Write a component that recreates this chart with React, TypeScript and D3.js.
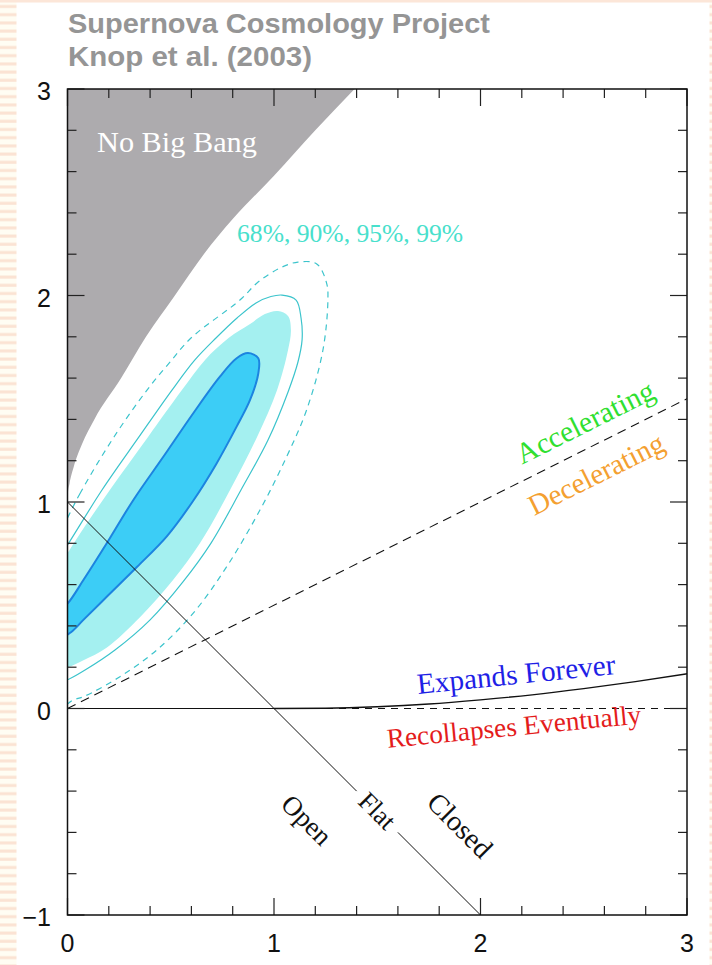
import React from 'react';
import * as d3 from 'd3';

type P = [number, number];

const xTickValues = [0, 1, 2, 3];
const xTickLabels = ['0', '1', '2', '3'];
const yTickValues = [-1, 0, 1, 2, 3];
const yTickLabels = ['\u22121', '0', '1', '2', '3'];

// No Big Bang boundary (Omega_M, Omega_Lambda)
const noBigBangBoundary: P[] = [
  [0, 1], [0.002, 1.04], [0.01, 1.09], [0.03, 1.17], [0.07, 1.28], [0.13, 1.4],
  [0.26, 1.6], [0.38, 1.8], [0.52, 2.0], [0.66, 2.2], [0.8, 2.37], [1.0, 2.58],
  [1.2, 2.8], [1.39, 3.0],
];

// confidence contours
const contour68: P[] = [
  [0.001, 0.509], [0.077, 0.622], [0.19, 0.8], [0.319, 1.01], [0.464, 1.219], [0.609, 1.43],
  [0.738, 1.607], [0.819, 1.696], [0.874, 1.721], [0.924, 1.696], [0.924, 1.623], [0.884, 1.494],
  [0.819, 1.365], [0.722, 1.187], [0.608, 1.005], [0.482, 0.835], [0.336, 0.685], [0.196, 0.547],
  [0.077, 0.429], [0.02, 0.372], [-0.036, 0.341], [-0.075, 0.37], [-0.061, 0.453],
];
const contour90: P[] = [
  [-0.05, 0.66], [0.04, 0.815], [0.205, 1.058], [0.39, 1.315], [0.554, 1.542], [0.666, 1.688],
  [0.78, 1.794], [0.884, 1.862], [0.956, 1.91], [1.019, 1.925], [1.068, 1.901], [1.082, 1.833],
  [1.068, 1.736], [1.015, 1.542], [0.918, 1.315], [0.787, 1.058], [0.642, 0.801], [0.511, 0.622],
  [0.351, 0.442], [0.191, 0.296], [0.075, 0.233], [0.002, 0.201], [-0.061, 0.196], [-0.1, 0.27],
  [-0.1, 0.47],
];
const contour95: P[] = [
  [0.006, 0.801], [0.167, 1.058], [0.346, 1.315], [0.506, 1.542], [0.617, 1.688], [0.719, 1.794],
  [0.821, 1.891], [0.913, 1.964], [0.985, 1.995], [1.039, 2.002], [1.107, 1.978], [1.131, 1.891],
  [1.136, 1.785], [1.116, 1.678], [1.068, 1.533], [0.971, 1.3], [0.84, 1.058], [0.695, 0.801],
  [0.559, 0.613], [0.4, 0.429], [0.23, 0.283], [0.085, 0.186], [-0.002, 0.138], [-0.085, 0.114],
  [-0.133, 0.186], [-0.12, 0.45], [-0.06, 0.7],
];
const contour99: P[] = [
  [-0.02, 0.88], [0.06, 1.04], [0.225, 1.315], [0.385, 1.542], [0.49, 1.67], [0.598, 1.794],
  [0.835, 1.978], [0.923, 2.065], [1.029, 2.133], [1.116, 2.162], [1.207, 2.153], [1.255, 2.059],
  [1.261, 1.978], [1.237, 1.736], [1.158, 1.446], [1.061, 1.219], [0.932, 0.961], [0.771, 0.687],
  [0.609, 0.462], [0.432, 0.283], [0.254, 0.154], [0.077, 0.057], [0.027, 0.041], [-0.06, -0.017],
  [-0.133, 0.017], [-0.157, 0.332], [-0.1, 0.7],
];

// reference lines
const flatLineA: P[] = [[0, 1], [1.4, -0.4]];
const flatLineB: P[] = [[1.6, -0.6], [2, -1]];
const accelLine: P[] = [[0, 0], [3, 1.5]];
const zeroSolid: P[] = [[0, 0], [1, 0]];
const zeroDashed: P[] = [[1, 0], [3, 0]];
const expandCurve: P[] = [
  [1, 0], [1.25, 0.0015], [1.5, 0.0087], [1.75, 0.022], [2, 0.042], [2.25, 0.066],
  [2.5, 0.096], [2.75, 0.13], [3, 0.168],
];

const X0 = 67.5, X1 = 687, Y0 = 89, Y1 = 915;

export default function App() {
  const x = d3.scaleLinear().domain([0, 3]).range([X0, X1]);
  const y = d3.scaleLinear().domain([-1, 3]).range([Y1, Y0]);
  const line = d3.line<P>().x(d => x(d[0])).y(d => y(d[1]));
  const smooth = d3.line<P>().x(d => x(d[0])).y(d => y(d[1])).curve(d3.curveMonotoneX);
  const closed = d3.line<P>().x(d => x(d[0])).y(d => y(d[1])).curve(d3.curveCatmullRomClosed.alpha(0.5));

  const grayPath = smooth(noBigBangBoundary) + `L${x(0)},${y(3)}Z`;

  const minorX = d3.range(0, 3.0001, 0.2);
  const minorY = d3.range(-1, 3.0001, 0.2);
  const isMajor = (v: number) => Math.abs(v - Math.round(v)) < 1e-6;

  const serif = '"Liberation Serif", "Times New Roman", serif';
  const sans = '"Liberation Sans", Arial, Helvetica, sans-serif';
  const lineAngle = (Math.atan2(y(1.5) - y(0), x(3) - x(0)) * 180) / Math.PI;

  const label = (t: string, mx: number, ml: number, rot: number, color: string, size: number) => (
    <text
      transform={`translate(${x(mx)},${y(ml)}) rotate(${rot})`}
      textAnchor="middle"
      dominantBaseline="central"
      fontFamily={serif}
      fontSize={size}
      fill={color}
    >
      {t}
    </text>
  );

  return (
    <svg width={712} height={965} style={{ position: 'absolute', left: 0, top: 0, background: '#fff' }}>
      <defs>
        <pattern id="stripes" width="20" height="8.2" patternUnits="userSpaceOnUse">
          <rect width="20" height="8.2" fill="#fffdf3" />
          <rect y="5" width="20" height="3" fill="#fbe3d3" />
        </pattern>
        <clipPath id="plot">
          <rect x={X0} y={Y0} width={X1 - X0} height={Y1 - Y0} />
        </clipPath>
      </defs>
      <rect x={0} y={0} width={712} height={965} fill="#fff" />
      <rect x={0} y={0} width={16.5} height={965} fill="url(#stripes)" />
      <rect x={709.5} y={0} width={2.5} height={965} fill="url(#stripes)" />
      <rect x={0} y={0} width={712} height={2.5} fill="#fce6d8" />

      <text x={68} y={33} fontFamily={sans} fontWeight="bold" fontSize={27} fill="#959595" textLength={422} lengthAdjust="spacingAndGlyphs">
        Supernova Cosmology Project
      </text>
      <text x={68} y={66} fontFamily={sans} fontWeight="bold" fontSize={27} fill="#959595" textLength={244} lengthAdjust="spacingAndGlyphs">
        Knop et al. (2003)
      </text>

      <g clipPath="url(#plot)">
        <path d={grayPath} fill="#adabae" />
        <path d={closed(contour90) || ''} fill="#a4f0f0" />
        <path d={closed(contour68) || ''} fill="#3ccdf6" stroke="#1c84e0" strokeWidth={2} />
        <path d={closed(contour95) || ''} fill="none" stroke="#3cc4cc" strokeWidth={1.2} />
        <path d={closed(contour99) || ''} fill="none" stroke="#3cc4cc" strokeWidth={1.2} strokeDasharray="6,5" />

        <path d={line(flatLineA) || ''} stroke="#111" strokeWidth={1} fill="none" />
        <path d={line(flatLineB) || ''} stroke="#111" strokeWidth={1} fill="none" />
        <path d={line(accelLine) || ''} stroke="#111" strokeWidth={1.1} fill="none" strokeDasharray="9,6" />
        <path d={line(zeroSolid) || ''} stroke="#111" strokeWidth={1.1} fill="none" />
        <path d={line(zeroDashed) || ''} stroke="#111" strokeWidth={1.1} fill="none" strokeDasharray="7,6" />
        <path d={smooth(expandCurve) || ''} stroke="#111" strokeWidth={1.4} fill="none" />
      </g>

      {/* ticks */}
      <g stroke="#222" strokeWidth={1.2}>
        {minorX.map((v, i) => {
          const L = isMajor(v) ? 17 : 9;
          return (
            <g key={'x' + i}>
              <line x1={x(v)} x2={x(v)} y1={Y1} y2={Y1 - L} />
              <line x1={x(v)} x2={x(v)} y1={Y0} y2={Y0 + L} />
            </g>
          );
        })}
        {minorY.map((v, i) => {
          const L = isMajor(v) ? 17 : 9;
          return (
            <g key={'y' + i}>
              <line x1={X0} x2={X0 + L} y1={y(v)} y2={y(v)} />
              <line x1={X1} x2={X1 - L} y1={y(v)} y2={y(v)} />
            </g>
          );
        })}
      </g>
      <rect x={X0} y={Y0} width={X1 - X0} height={Y1 - Y0} fill="none" stroke="#111" strokeWidth={1.5} />

      {xTickValues.map((v, i) => (
        <text key={'xl' + i} x={x(v)} y={952} textAnchor="middle" fontFamily={sans} fontSize={25} fill="#111">
          {xTickLabels[i]}
        </text>
      ))}
      {yTickValues.map((v, i) => (
        <text key={'yl' + i} x={51} y={y(v) + 2} textAnchor="end" dominantBaseline="central" fontFamily={sans} fontSize={25} fill="#111">
          {yTickLabels[i]}
        </text>
      ))}

      <text x={x(0.143)} y={y(2.695)} fontFamily={serif} fontSize={30.3} fill="#ffffff">No Big Bang</text>
      <text x={x(0.821)} y={y(2.259)} fontFamily={serif} fontSize={25.6} fill="#48e0cc">68%, 90%, 95%, 99%</text>

      {label('Flat', 1.499, -0.496, 45, '#111', 26)}
      {label('Open', 1.158, -0.54, 45, '#111', 27)}
      {label('Closed', 1.9, -0.566, 45, '#111', 28.5)}
      {label('Accelerating', 2.506, 1.387, lineAngle, '#30e030', 29.5)}
      {label('Decelerating', 2.559, 1.136, lineAngle, '#f4a030', 29)}
      {label('Expands Forever', 2.172, 0.167, -5.8, '#1f1fe6', 29.3)}
      {label('Recollapses Eventually', 2.162, -0.088, -5.5, '#e41c1c', 27.3)}
    </svg>
  );
}
